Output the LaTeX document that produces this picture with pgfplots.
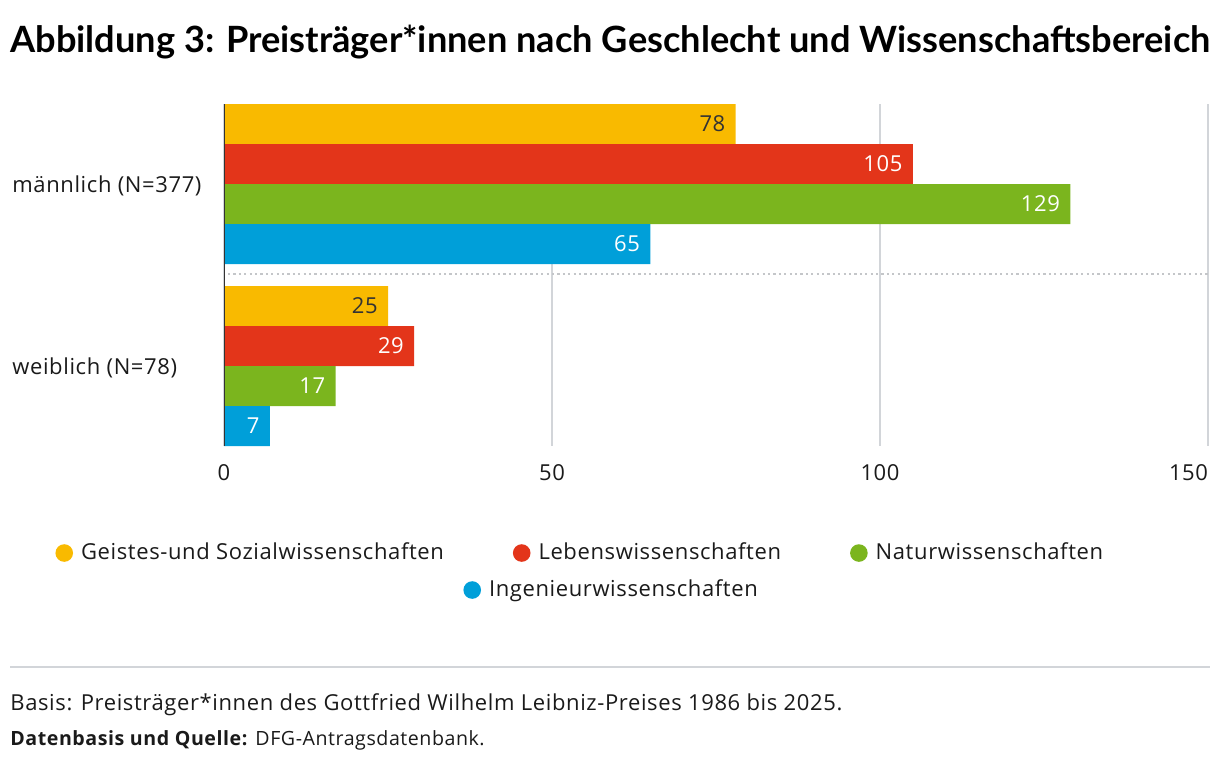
\documentclass[border=0pt]{standalone}
\usepackage{fontspec}
\setmainfont{Open Sans}[LetterSpace=2.8]
\newfontfamily\titlefont{Lato}
\usepackage{pgfplots}
\pgfplotsset{compat=1.18}

\definecolor{gelb}{HTML}{F9BA00}
\definecolor{rot}{HTML}{E3351A}
\definecolor{gruen}{HTML}{7BB51E}
\definecolor{blau}{HTML}{009FD9}
\definecolor{gitter}{HTML}{D2D5D9}
\definecolor{punkte}{HTML}{C4C6C9}
\definecolor{achse}{HTML}{333333}
\definecolor{schrift}{HTML}{1A1A1A}

\pgfplotsset{
  kreis/.style={legend image code/.code={\fill[##1] (0pt,0pt) circle (4.4pt);}},
}

\begin{document}
\begin{tikzpicture}[font=\fontsize{11}{13}\selectfont, text=schrift]
\path[use as bounding box] (0,0) rectangle (610pt,-381pt);

\node[anchor=base west, inner sep=0, font=\titlefont\bfseries\fontsize{18.1}{21}\selectfont, text=black]
  at (5pt,-26pt) {Abbildung 3: Preisträger*innen nach Geschlecht und Wissenschaftsbereich};

\begin{axis}[
  at={(112pt,-52pt)}, anchor=north west,
  scale only axis, width=492pt, height=171pt,
  xbar, bar width=40,
  xmin=0, xmax=150, ymin=104, ymax=446, y dir=reverse,
  axis y line*=left, axis x line*=bottom,
  y axis line style={draw=none},
  x axis line style={draw=none},
  major tick length=0pt,
  xtick={0,50,100,150},
  xticklabels={0,50,100,{150\hphantom{150}}},
  xticklabel style={anchor=base, inner sep=0pt, yshift=-17pt},
  ytick={184,366},
  yticklabels={männlich (N=377),weiblich (N=78)},
  yticklabel style={anchor=base west, inner sep=0pt, xshift=-106pt, yshift=-4pt},
  xmajorgrids, grid style={draw=gitter, line width=0.6pt},
  point meta=x,
  nodes near coords,
  every node near coord/.append style={anchor=base east, inner sep=0pt,
    xshift=-5pt, yshift=-3.9pt, text=white,
    /pgf/number format/assume math mode=true},
  kreis,
  legend columns=3,
  legend cell align=left,
  legend style={draw=none, fill=none, at={(-0.1778,-0.3129)}, anchor=west,
    /tikz/every odd column/.append style={column sep=2pt},
    /tikz/every even column/.append style={column sep=32.5pt}},
]
\addplot[fill=gelb, draw=none, bar shift=-60,
  every node near coord/.append style={text=achse}]
  coordinates {(78,184) (25,366)};
\addplot[fill=rot, draw=none, bar shift=-20]
  coordinates {(105,184) (29,366)};
\addplot[fill=gruen, draw=none, bar shift=20]
  coordinates {(129,184) (17,366)};
\addplot[fill=blau, draw=none, bar shift=60]
  coordinates {(65,184) (7,366)};
\legend{Geistes-und Sozialwissenschaften,Lebenswissenschaften,Naturwissenschaften}
\draw[punkte, line width=1.1pt, dash pattern=on 1.1pt off 1.6pt]
  ([xshift=-106pt]axis cs:0,274) -- (axis cs:150,274);
\draw[achse, line width=1pt] (axis cs:0,104) -- (axis cs:0,446);
\end{axis}

\begin{axis}[
  at={(112pt,-52pt)}, anchor=north west,
  scale only axis, width=492pt, height=171pt,
  hide axis, xmin=0, xmax=1, ymin=0, ymax=1,
  kreis,
  legend style={draw=none, fill=none, at={(0.2368,-0.4211)}, anchor=west,
    /tikz/every odd column/.append style={column sep=2pt}},
]
\addlegendimage{draw=none, fill=blau}
\addlegendentry{Ingenieurwissenschaften}
\end{axis}

\draw[gitter, line width=1pt] (5pt,-333.5pt) -- (605pt,-333.5pt);
\node[anchor=base west, inner sep=0] at (5pt,-355pt)
  {Basis: Preisträger*innen des Gottfried Wilhelm Leibniz-Preises 1986 bis 2025.};
\node[anchor=base west, inner sep=0, font=\fontsize{9.8}{12}\selectfont] at (5pt,-372.5pt)
  {\textbf{Datenbasis und Quelle:} DFG-Antragsdatenbank.};
\end{tikzpicture}
\end{document}
